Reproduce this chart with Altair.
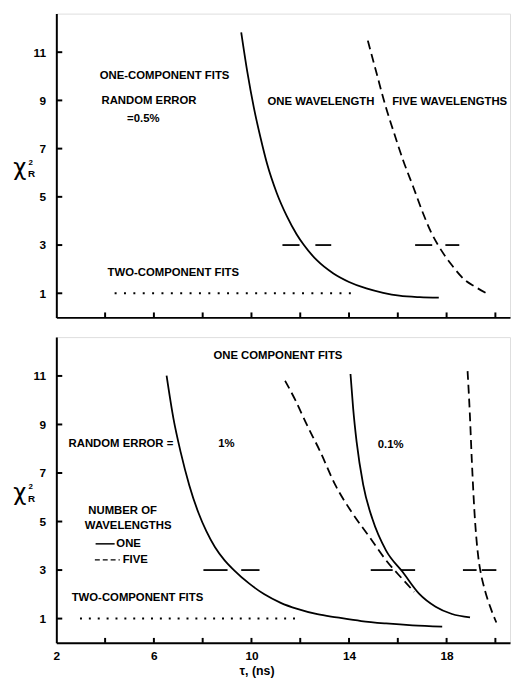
import altair as alt
import pandas as pd

# ---------------- data ----------------
# Top panel: random error 0.5 %
top_one_x = [9.58, 9.83, 10.1, 10.37, 10.64, 11.04, 11.45, 11.85, 12.15, 12.69, 13.36, 14.0, 14.71, 15.4, 16.06, 16.9, 17.68]
top_one_y = [11.82, 10.18, 8.69, 7.46, 6.37, 5.15, 4.2, 3.45, 3.0, 2.36, 1.82, 1.47, 1.2, 1.02, 0.9, 0.84, 0.82]
top_five_x = [14.77, 15.15, 15.48, 15.82, 16.22, 16.63, 17.03, 17.37, 17.65, 18.22, 18.76, 19.17, 19.64]
top_five_y = [11.48, 10.05, 8.82, 7.73, 6.51, 5.42, 4.33, 3.52, 3.0, 2.16, 1.54, 1.27, 1.0]
top_bar_x1 = [11.27, 12.62, 16.71, 17.95]
top_bar_x2 = [11.97, 13.27, 17.41, 18.52]
top_bar_y = [3, 3, 3, 3]
top_dot_x1, top_dot_x2, top_dot_y = [4.39], [14.26], [1]
top_text = ["ONE-COMPONENT FITS", "RANDOM ERROR", "=0.5%", "ONE WAVELENGTH", "FIVE WAVELENGTHS", "TWO-COMPONENT FITS"]
top_text_x = [3.78, 3.85, 4.9, 10.66, 15.77, 4.1]
top_text_y = [10.02, 8.99, 8.22, 8.93, 8.93, 1.86]

# Bottom panel: random error 1 % and 0.1 %
b1_one_x = [6.52, 6.8, 7.1, 7.45, 7.83, 8.15, 8.5, 8.9, 9.28, 9.9, 10.53, 11.2, 11.88, 12.7, 13.5, 14.5, 15.52, 16.6, 17.82]
b1_one_y = [11.01, 9.25, 7.85, 6.5, 5.35, 4.6, 3.95, 3.4, 3.0, 2.45, 2.0, 1.65, 1.4, 1.18, 1.05, 0.9, 0.8, 0.72, 0.67]
b1_five_x = [11.38, 11.8, 12.28, 12.82, 13.43, 14.1, 14.85, 15.52, 16.2, 16.67]
b1_five_y = [10.8, 10.0, 8.97, 7.88, 6.52, 5.4, 4.35, 3.4, 2.62, 2.1]
b01_one_x = [14.06, 14.17, 14.31, 14.58, 14.96, 15.52, 16.2, 16.87, 17.55, 18.22, 18.96]
b01_one_y = [11.08, 9.65, 8.29, 6.52, 5.1, 3.8, 2.92, 2.03, 1.49, 1.19, 1.05]
b01_five_x = [18.86, 18.95, 19.03, 19.14, 19.3, 19.38, 19.57, 19.8, 20.04]
b01_five_y = [11.2, 9.5, 7.61, 5.44, 3.53, 3.0, 2.17, 1.45, 0.84]
bot_bar_x1 = [8.03, 9.58, 14.89, 16.13, 18.67, 19.44]
bot_bar_x2 = [9.02, 10.33, 15.79, 16.71, 19.23, 20.04]
bot_bar_y = [3, 3, 3, 3, 3, 3]
bot_dot_x1, bot_dot_x2, bot_dot_y = [2.97], [11.84], [1]
bot_text = ["ONE COMPONENT FITS", "RANDOM ERROR =", "1%", "0.1%", "NUMBER OF", "WAVELENGTHS",
            "ONE", "FIVE", "TWO-COMPONENT FITS"]
bot_text_x = [8.44, 2.5, 8.64, 15.18, 3.31, 3.17, 4.46, 4.72, 2.63]
bot_text_y = [11.8, 8.18, 8.18, 8.15, 5.44, 4.82, 4.08, 3.42, 1.83]
leg_solid_x1, leg_solid_x2, leg_solid_y = [3.61], [4.39], [4.08]
leg_dash_x1, leg_dash_x2, leg_dash_y = [3.58], [4.6], [3.42]

x_ticks = [4, 6, 8, 10, 12, 14, 16, 18, 20]
x_labels = [2, 6, 10, 14, 18]
y_ticks = [1, 3, 5, 7, 9, 11]

X_DOMAIN = [2, 20.6]
Y_DOMAIN = [0, 12.6]
W = 460
FONT = "Liberation Sans"

xs = alt.Scale(domain=X_DOMAIN, nice=False, zero=False)
ys = alt.Scale(domain=Y_DOMAIN, nice=False, zero=False)

XAXIS_BOTTOM = alt.Axis(values=x_labels, ticks=False, grid=False, domainWidth=2, domainColor="black",
                        labelFont=FONT, labelFontWeight="bold", labelFontSize=12, labelColor="black",
                        labelPadding=8, labelFlush=False, title="τ, (ns)", titleFont=FONT,
                        titleFontWeight="bold", titleFontSize=12.5, titleColor="black",
                        titleX=203, titlePadding=3)
XAXIS_TOP = alt.Axis(labels=False, ticks=False, grid=False, domainWidth=2, domainColor="black",
                     title=None)
YAXIS = alt.Axis(values=y_ticks, ticks=False, grid=False, domainWidth=2, domainColor="black",
                 labelFont=FONT, labelFontWeight="bold", labelFontSize=12, labelColor="black",
                 labelPadding=11, title=None)


def X(ax, field="x"):
    return alt.X(f"{field}:Q", scale=xs, axis=ax)


def Y(field="y"):
    return alt.Y(f"{field}:Q", scale=ys, axis=YAXIS)


def curve(ax, xv, yv, dash=None, width=1.8):
    df = pd.DataFrame({"x": xv, "y": yv, "i": list(range(len(xv)))})
    kw = dict(color="black", strokeWidth=width, interpolate="monotone")
    if dash is not None:
        kw["strokeDash"] = dash
    return alt.Chart(df).mark_line(**kw).encode(x=X(ax), y=Y(), order="i:Q")


def segs(ax, x1, x2, yv, dash=None, width=1.8):
    df = pd.DataFrame({"x": x1, "x2": x2, "y": yv})
    kw = dict(color="black", strokeWidth=width)
    if dash is not None:
        kw["strokeDash"] = dash
    return alt.Chart(df).mark_rule(**kw).encode(x=X(ax), x2="x2:Q", y=Y())


def labels(ax, txt, xv, yv):
    df = pd.DataFrame({"t": txt, "x": xv, "y": yv})
    return alt.Chart(df).mark_text(
        align="left", baseline="middle", font=FONT, fontWeight="bold", fontSize=11.5, color="black"
    ).encode(x=X(ax), y=Y(), text="t:N")


def base(ax, H):
    xt = alt.Chart(pd.DataFrame({"x": x_ticks})).mark_rule(color="black", strokeWidth=2).encode(
        x=X(ax), y=alt.value(H), y2=alt.value(H - 5),
    )
    yt = alt.Chart(pd.DataFrame({"y": y_ticks})).mark_rule(color="black", strokeWidth=2).encode(
        y=Y(), x=alt.value(0), x2=alt.value(6),
    )
    chi = alt.Chart(pd.DataFrame({"t": ["χ"]})).mark_text(
        font="DejaVu Sans", fontSize=23, color="black", baseline="middle", align="center"
    ).encode(x=alt.value(-37), y=alt.value(H / 2 + 3), text="t:N")
    sup = alt.Chart(pd.DataFrame({"t": ["2"]})).mark_text(
        font=FONT, fontWeight="bold", fontSize=8, color="black", baseline="middle", align="center"
    ).encode(x=alt.value(-26), y=alt.value(H / 2 - 3), text="t:N")
    sub = alt.Chart(pd.DataFrame({"t": ["R"]})).mark_text(
        font=FONT, fontWeight="bold", fontSize=10, color="black", baseline="middle", align="center"
    ).encode(x=alt.value(-25), y=alt.value(H / 2 + 9), text="t:N")
    return [xt, yt, chi, sup, sub]


H1 = 308
ax = XAXIS_TOP
top = alt.layer(
    *base(ax, H1),
    segs(ax, top_dot_x1, top_dot_x2, top_dot_y, dash=[2, 7.5], width=2),
    segs(ax, top_bar_x1, top_bar_x2, top_bar_y),
    curve(ax, top_one_x, top_one_y),
    curve(ax, top_five_x, top_five_y, dash=[9, 5]),
    labels(ax, top_text, top_text_x, top_text_y),
).properties(width=W, height=H1)

H2 = 310
ax = XAXIS_BOTTOM
bottom = alt.layer(
    *base(ax, H2),
    segs(ax, bot_dot_x1, bot_dot_x2, bot_dot_y, dash=[2, 7], width=2),
    segs(ax, bot_bar_x1, bot_bar_x2, bot_bar_y),
    segs(ax, leg_solid_x1, leg_solid_x2, leg_solid_y, width=1.5),
    segs(ax, leg_dash_x1, leg_dash_x2, leg_dash_y, dash=[5, 3], width=1.5),
    curve(ax, b1_one_x, b1_one_y),
    curve(ax, b1_five_x, b1_five_y, dash=[9, 5]),
    curve(ax, b01_one_x, b01_one_y),
    curve(ax, b01_five_x, b01_five_y, dash=[9, 5]),
    labels(ax, bot_text, bot_text_x, bot_text_y),
).properties(width=W, height=H2)

chart = alt.vconcat(top, bottom, spacing=17).properties(
    padding={"left": 4, "top": 0, "right": 0, "bottom": 0}
).configure_view(strokeWidth=0).configure(background="white")

chart.save("out.html", embed_options={"renderer": "svg", "actions": False})
